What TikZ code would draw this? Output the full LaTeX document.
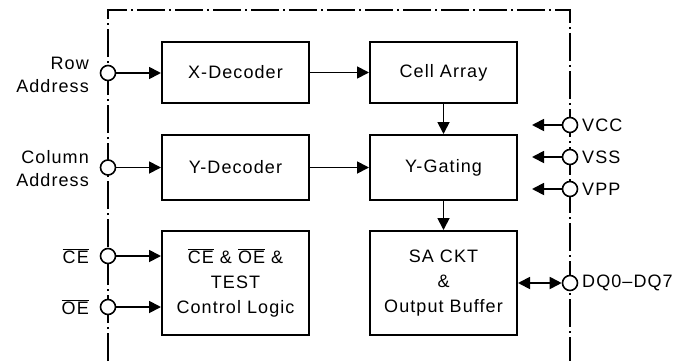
\documentclass[tikz,border=0pt]{standalone}
\usepackage{fontspec}
\setmainfont{Liberation Sans}[LetterSpace=6]
\usetikzlibrary{arrows.meta}
\newcommand{\ovl}[1]{\(\overline{\mbox{#1}}\)}
\begin{document}
\begin{tikzpicture}[x=1pt,y=-1pt,
 blk/.style={draw,line width=2pt,minimum width=147pt,inner sep=0pt,font=\fontsize{18}{25}\selectfont,align=center},
 pin/.style={circle,draw,fill=white,line width=1.6pt,minimum size=15pt,inner sep=0pt},
 lbl/.style={font=\fontsize{18}{23}\selectfont,inner sep=0pt},
 tip/.style={Triangle[length=12pt,width=12pt]},
 conn/.style={line width=1.8pt,-{Triangle[length=12pt,width=12pt]}},
 conn2/.style={line width=1.8pt,{Triangle[length=12pt,width=12pt]}-{Triangle[length=12pt,width=12pt]}},
 border/.style={line width=1.6pt,dash pattern=on 28pt off 4pt on 2pt off 4pt}]
\useasboundingbox (0,0) rectangle (679,361);
% border
\coordinate (bl) at (108,361);
\coordinate (tl) at (108,10);
\coordinate (tr) at (570,10);
\coordinate (br) at (570,361);
\draw[border] (bl) -- (tl) -- (tr) -- (br);
% blocks
\node[blk,minimum height=61pt] (xdec) at (235.5,72.5) {X-Decoder};
\node[blk,minimum height=61pt] (cell) at (443.5,72.5) {Cell Array};
\node[blk,minimum height=65pt] (ydec) at (235.5,167.5) {Y-Decoder};
\node[blk,minimum height=65pt] (ygate) at (443.5,167.5) {Y-Gating};
\node[blk,minimum height=104pt] (ctrl) at (235.5,283) {\ovl{CE} \& \ovl{OE} \&\\TEST\\Control Logic};
\node[blk,minimum height=104pt] (sa) at (443.5,283) {SA CKT\\\&\\Output Buffer};
% left pins
\node[pin] (row) at (108,73) {};
\node[pin] (col) at (108,167.5) {};
\node[pin] (ce) at (108,256) {};
\node[pin] (oe) at (108,307) {};
\node[lbl,anchor=east,align=right] (rowl) at (89,75) {Row\\Address};
\node[lbl,anchor=east,align=right] (coll) at (89,169) {Column\\Address};
\node[lbl,anchor=east] (cel) at (89,256) {\ovl{CE}};
\node[lbl,anchor=east] (oel) at (89,307) {\ovl{OE}};
% right pins
\node[pin] (vcc) at (570,125) {};
\node[pin] (vss) at (570,157) {};
\node[pin] (vpp) at (570,189) {};
\node[pin] (dq) at (570,283) {};
\node[lbl,anchor=west] (vccl) at (582,125) {VCC};
\node[lbl,anchor=west] (vssl) at (582,157) {VSS};
\node[lbl,anchor=west] (vppl) at (582,189) {VPP};
\node[lbl,anchor=west] (dql) at (582,283) {DQ0–DQ7};
\coordinate (vcct) at (532,125);
\coordinate (vsst) at (532,157);
\coordinate (vppt) at (532,189);
% connectors
\draw[conn] (row) -- (row -| xdec.west);
\draw[conn] (col) -- (col -| ydec.west);
\draw[conn] (ce) -- (ce -| ctrl.west);
\draw[conn] (oe) -- (oe -| ctrl.west);
\draw[conn] (xdec) -- (cell);
\draw[conn] (ydec) -- (ygate);
\draw[conn] (cell) -- (ygate);
\draw[conn] (ygate) -- (sa);
\draw[conn] (vcc) -- (vcct);
\draw[conn] (vss) -- (vsst);
\draw[conn] (vpp) -- (vppt);
\draw[conn2] (sa) -- (dq);
\end{tikzpicture}
\end{document}
